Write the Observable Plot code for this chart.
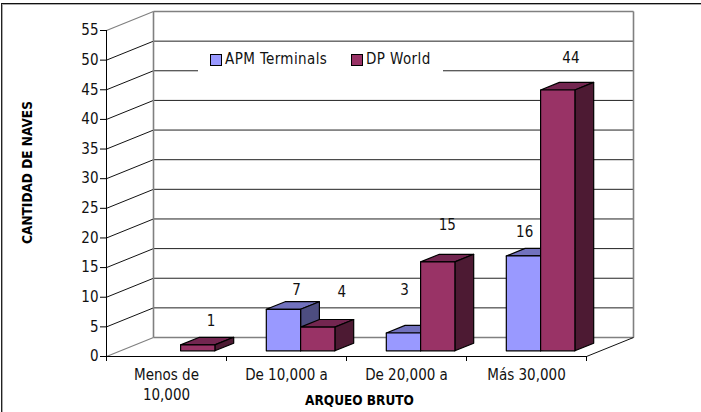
<!DOCTYPE html>
<html><head><meta charset="utf-8">
<script src="https://cdn.jsdelivr.net/npm/d3@7"></script>
<script src="https://cdn.jsdelivr.net/npm/@observablehq/plot@0.6"></script>
<style>
html,body{margin:0;padding:0;background:#fff}
#wrap{position:relative;width:701px;height:412px;overflow:hidden;font-family:"DejaVu Sans Condensed","DejaVu Sans",sans-serif}
#border{position:absolute;left:1px;top:3px;right:0;bottom:0;border-top:1.5px solid #111;border-left:1.5px solid #222;box-shadow:inset 1px 1px 0 #aaa;pointer-events:none}
#legend{position:absolute;left:198px;top:43px;width:245px;height:54px;background:#fff;font-size:15px;color:#111;letter-spacing:.4px}
#legend span.k{position:absolute;top:11px;width:10px;height:10px;border:1.2px solid #000}
#legend span.t{position:absolute;top:7px;white-space:nowrap}
svg{display:block}
</style></head><body>
<div id="wrap"><div id="chart"></div><div id="legend"></div><div id="border"></div></div>
<script>
const categories = [["Menos de","10,000"],["De 10,000 a"],["De 20,000 a"],["Más 30,000"]];
const seriesNames = ["APM Terminals","DP World"];
const apmValues = [0,7,3,16];
const dpValues  = [1,4,15,44];
const yTicks = [0,5,10,15,20,25,30,35,40,45,50,55];
const labelNudgeApm = [null,[0.11,3.2],[0.01,7.2],[0.01,4]];
const labelNudgeDp  = [[0.11,4],[0.2,5.9],[0.08,6.2],[0.11,5.4]];

const palette = [
  {front:"#9999ff", top:"#7272be", side:"#4d4d80"},
  {front:"#993366", top:"#732650", side:"#4d1a33"}
];
// oblique projection: depth d (0 = front of floor, 1 = back wall) in data units
const depthX = 47/120, depthY = 19/5.93;
const P = (c,v,d) => ({x:c+d*depthX, y:v+d*depthY});
const barW = 1/3.5, dNear = 0.3, dFar = 0.7;

const gridLines = yTicks.slice(1,-1).map(v=>({a:P(0,v,1),b:P(4,v,1)}));
const sideLines = yTicks.slice(1,-1).map(v=>({a:P(0,v,0),b:P(0,v,1)}));

const link = (rows,opts) => Plot.link(rows,{x1:d=>d.a.x,y1:d=>d.a.y,x2:d=>d.b.x,y2:d=>d.b.y,...opts});

const faces = [];
[apmValues,dpValues].forEach((vals,s)=>{
  vals.forEach((v,i)=>{
    if(!v) return;
    const x0=i+0.5+(s-1)*barW, x1=x0+barW, col=palette[s];
    faces.push({fill:col.top,pts:[P(x0,v,dNear),P(x1,v,dNear),P(x1,v,dFar),P(x0,v,dFar)]});
    faces.push({fill:col.side,pts:[P(x1,0,dNear),P(x1,v,dNear),P(x1,v,dFar),P(x1,0,dFar)]});
    faces.push({fill:col.front,pts:[P(x0,0,dNear),P(x1,0,dNear),P(x1,v,dNear),P(x0,v,dNear)]});
  });
});

const valueLabels = [];
[[apmValues,labelNudgeApm],[dpValues,labelNudgeDp]].forEach(([vals,nudge],s)=>{
  vals.forEach((v,i)=>{
    if(!nudge[i]) return;
    const base=P(i+0.5+(s-0.5)*barW,v,dNear);
    valueLabels.push({x:base.x+nudge[i][0],y:base.y+nudge[i][1],t:String(v)});
  });
});
const catLabels = categories.flatMap((lines,i)=>lines.map((t,j)=>({x:i+0.5,t,j})));

const gray="#808080";
const chart = Plot.plot({
  width:701,height:412,marginLeft:106,marginRight:115,marginTop:30,marginBottom:56,
  style:{fontFamily:'"DejaVu Sans Condensed","DejaVu Sans",sans-serif',background:"#fff",overflow:"visible"},
  x:{domain:[0,4],axis:null},
  y:{domain:[0,55],axis:null},
  marks:[
    link(gridLines,{stroke:"#222",strokeWidth:1}),
    link(sideLines,{stroke:"#111",strokeWidth:1}),
    link([{a:P(0,0,1),b:P(4,0,1)},{a:P(0,55,1),b:P(4,55,1)},{a:P(0,0,1),b:P(0,55,1)},{a:P(4,0,1),b:P(4,55,1)}],{stroke:gray,strokeWidth:1.6}),
    link([{a:P(0,0,0),b:P(0,0,1)},{a:P(0,55,0),b:P(0,55,1)}],{stroke:gray,strokeWidth:1.2}),
    link([{a:P(4,0,0),b:P(4,0,1)}],{stroke:"#111",strokeWidth:1}),
    ...faces.map(f=>Plot.line(f.pts,{x:"x",y:"y",fill:f.fill,stroke:"#000",strokeWidth:1.2,curve:"linear-closed"})),
    Plot.ruleX([0],{y1:0,y2:55,stroke:"#000"}),
    Plot.ruleY([0],{x1:0,x2:4,stroke:"#000"}),
    Plot.axisY({ticks:yTicks,tickSize:6,tickPadding:2,fontSize:15,fill:"#111",label:null,stroke:"#000"}),
    Plot.axisX({ticks:[0,1,2,3,4],tickSize:5,tickFormat:()=>"",label:null,stroke:"#000"}),
    Plot.text(valueLabels,{x:"x",y:"y",text:"t",fontSize:15,fill:"#111"}),
    Plot.text(catLabels.filter(d=>d.j===0),{x:"x",y:()=>0,text:"t",dy:19,fontSize:15,fill:"#111"}),
    Plot.text(catLabels.filter(d=>d.j===1),{x:"x",y:()=>0,text:"t",dy:39,fontSize:15,fill:"#111"}),
    Plot.text(["ARQUEO BRUTO"],{frameAnchor:"bottom",dx:13,dy:48,text:d=>d,fontSize:13.5,fontWeight:"bold",fill:"#000"}),
    Plot.text(["CANTIDAD DE NAVES"],{frameAnchor:"left",dx:-79,dy:-21,textAnchor:"middle",text:d=>d,rotate:-90,fontSize:13.5,fontWeight:"bold",fill:"#000"})
  ]
});
document.getElementById("chart").append(chart);

const lg=document.getElementById("legend");
[[13,27],[154,168]].forEach(([kx,tx],i)=>{
  lg.insertAdjacentHTML("beforeend",`<span class="k" style="left:${kx-1}px;background:${palette[i].front}"></span><span class="t" style="left:${tx}px">${seriesNames[i]}</span>`);
});
</script></body></html>
